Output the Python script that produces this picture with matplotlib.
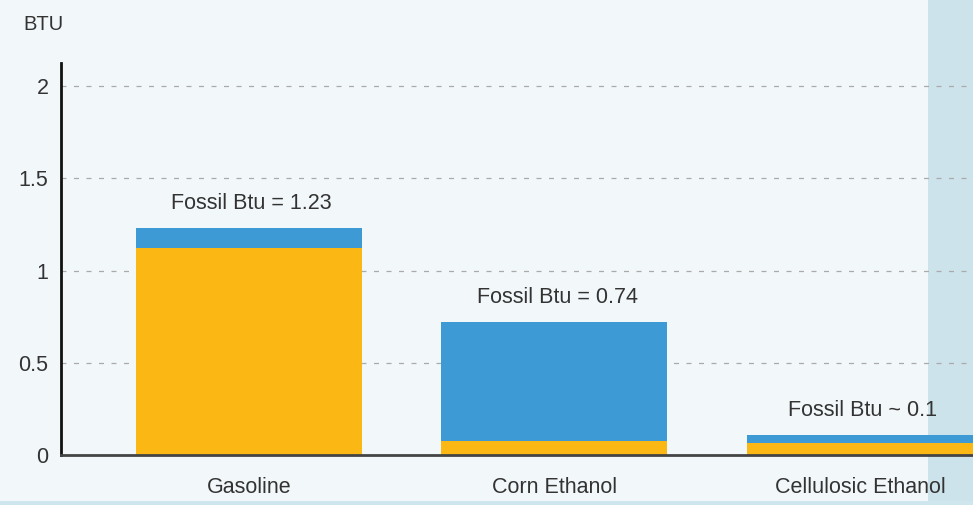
import matplotlib
matplotlib.use("Agg")
import matplotlib.pyplot as plt
from matplotlib.patches import Rectangle

categories = ["Gasoline", "Corn Ethanol", "Cellulosic Ethanol"]
yellow_vals = [1.12, 0.075, 0.065]
blue_vals = [0.11, 0.645, 0.043]
annotations = ["Fossil Btu = 1.23", "Fossil Btu = 0.74", "Fossil Btu ~ 0.1"]
yticks = [0, 0.5, 1, 1.5, 2]
ytick_labels = ["0", "0.5", "1", "1.5", "2"]

FONT = ["Liberation Sans", "DejaVu Sans"]
plt.rcParams["font.family"] = FONT
TXT = "#333333"
BG = "#f2f7f9"
FS = 15.5

fig = plt.figure(figsize=(9.73, 5.05), dpi=100, facecolor=BG)

ax = fig.add_axes([61 / 973, 50 / 505, 1 - 61 / 973, (455 - 63) / 505])
ax.set_facecolor("none")

# right and bottom tinted strips (behind everything)
ax.add_patch(Rectangle((928 / 973, 0), 1 - 928 / 973, 1, transform=fig.transFigure,
                       facecolor="#cde3eb", edgecolor="none", zorder=0, clip_on=False))
ax.add_patch(Rectangle((0, 0), 1, 4 / 505, transform=fig.transFigure,
                       facecolor="#cfe6ef", edgecolor="none", zorder=0, clip_on=False))

x = list(range(len(categories)))
w = 0.74
ax.bar(x, yellow_vals, width=w, color="#fbb713", zorder=3, clip_on=False)
ax.bar(x, blue_vals, width=w, bottom=yellow_vals, color="#3d9ad4", zorder=3, clip_on=False)

for xi, yv, bv, t in zip(x, yellow_vals, blue_vals, annotations):
    ax.annotate(t, (xi, yv + bv), xytext=(2, 10), textcoords="offset points",
                ha="center", va="bottom", fontsize=FS, color=TXT)

ax.set_xlim(-0.615, 2.37)
ax.set_ylim(0, 2.125)
ax.set_yticks(yticks)
ax.set_yticklabels(ytick_labels)
ax.set_xticks(x)
ax.set_xticklabels(categories)
ax.tick_params(axis="both", length=0, labelsize=FS, colors=TXT)
ax.tick_params(axis="y", pad=9)
ax.tick_params(axis="x", pad=16)

for yv in yticks[1:]:
    ax.axhline(yv, color="#aaaaaa", linestyle=(0, (4, 6)), linewidth=0.9, zorder=1)

for s in ["top", "right"]:
    ax.spines[s].set_visible(False)
ax.spines["left"].set_color("#111111")
ax.spines["left"].set_linewidth(2)
ax.spines["bottom"].set_color("#444444")
ax.spines["bottom"].set_linewidth(2)
ax.spines["bottom"].set_zorder(4)

fig.text(43 / 973, 1 - 25 / 505, "BTU", ha="center", va="center", fontsize=FS - 1, color=TXT)

fig.savefig("out.png", dpi=100, facecolor=BG)
